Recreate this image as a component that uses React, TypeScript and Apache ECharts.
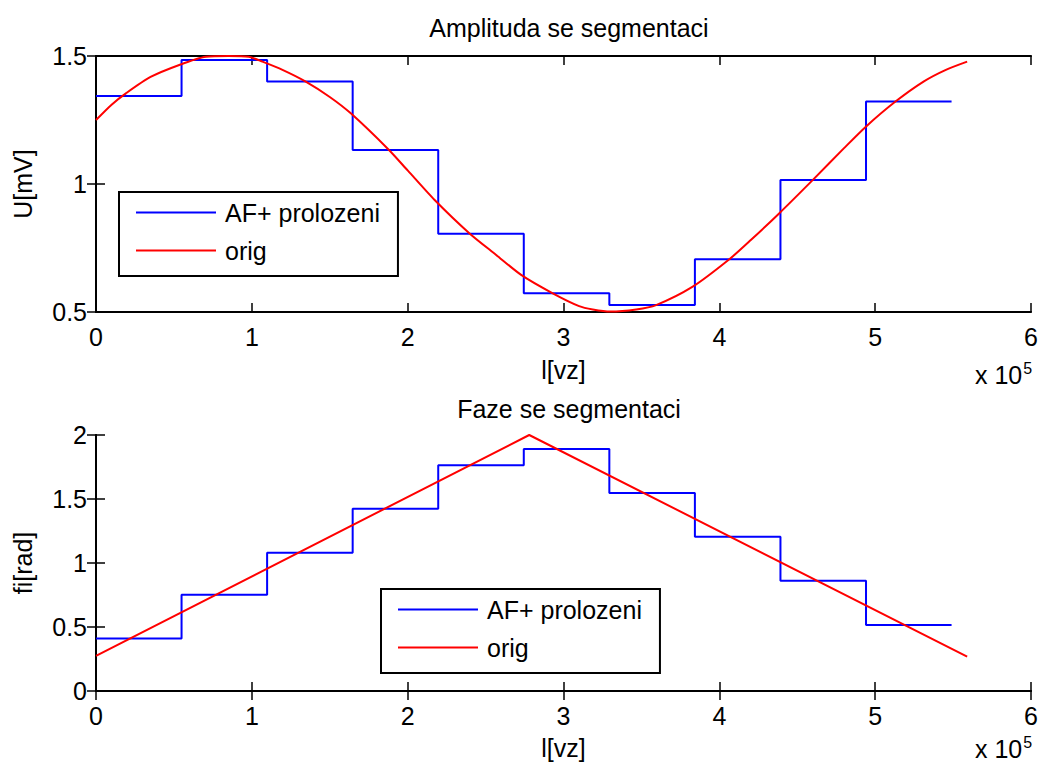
import React, { useEffect, useRef } from "react";
import * as echarts from "echarts";

// segment edges (x 10^5)
const segEdges = [0, 0.549, 1.098, 1.647, 2.196, 2.745, 3.294, 3.843, 4.392, 4.941, 5.49];
const ampSteps = [1.344, 1.484, 1.40, 1.133, 0.806, 0.573, 0.527, 0.706, 1.016, 1.322];
const phaseSteps = [0.41, 0.751, 1.08, 1.424, 1.763, 1.89, 1.547, 1.205, 0.861, 0.516];

const ampOrigX = [0, 0.1, 0.192, 0.35, 0.534, 0.705, 0.85, 0.98, 1.068, 1.2, 1.346, 1.5, 1.635, 1.88, 2.0, 2.173, 2.397, 2.568, 2.728, 2.931, 3.1, 3.188, 3.3, 3.466, 3.594, 3.829, 4.064, 4.2, 4.385, 4.6, 4.8, 4.94, 5.13, 5.31, 5.45, 5.59];
const ampOrigY = [1.25, 1.31, 1.354, 1.418, 1.465, 1.497, 1.50, 1.497, 1.478, 1.445, 1.40, 1.34, 1.276, 1.133, 1.053, 0.9375, 0.807, 0.723, 0.645, 0.573, 0.523, 0.51, 0.502, 0.51, 0.527, 0.599, 0.706, 0.78, 0.886, 1.016, 1.14, 1.224, 1.322, 1.40, 1.445, 1.478];

const phaseOrigX = [0, 2.78, 5.59];
const phaseOrigY = [0.274, 2.0, 0.268];

const xTicks = ["0", "1", "2", "3", "4", "5", "6"];
const SCALE = 1e5;

const FONT = "Liberation Sans, Arial, sans-serif";
const FS = 25;

const stepData = (vals: number[]) => {
  const d = vals.map((v, i) => [segEdges[i] * SCALE, v]);
  d.push([segEdges[segEdges.length - 1] * SCALE, vals[vals.length - 1]]);
  return d;
};
const lineData = (xs: number[], ys: number[]) => xs.map((x, i) => [x * SCALE, ys[i]]);

export default function App() {
  const ref = useRef<HTMLDivElement>(null);
  useEffect(() => {
    if (!ref.current) return;
    const chart = echarts.init(ref.current, undefined, { renderer: "svg" });
    const grids = [
      { left: 96, top: 56, width: 936, height: 256 },
      { left: 96, top: 435, width: 936, height: 256 },
    ];
    const axisLine = { show: true, lineStyle: { color: "#000", width: 2 } };
    const axisTick = { show: true, inside: true, length: 9, lineStyle: { color: "#000", width: 1.5 } };
    const labelStyle = { color: "#000", fontSize: FS, fontFamily: FONT };
    const xAx = (gi: number, pos: "bottom" | "top", nameGap: number) => ({
      type: "value",
      gridIndex: gi,
      position: pos,
      min: 0,
      max: 6 * SCALE,
      interval: SCALE,
      axisLine,
      axisTick,
      splitLine: { show: false },
      axisLabel: pos === "bottom"
        ? { ...labelStyle, margin: 12, formatter: (v: number) => xTicks[Math.round(v / SCALE)] }
        : { show: false },
      name: pos === "bottom" ? "l[vz]" : "",
      nameLocation: "middle",
      nameGap,
      nameTextStyle: labelStyle,
    });
    const yAx = (gi: number, pos: "left" | "right", min: number, max: number, name: string) => ({
      type: "value",
      gridIndex: gi,
      position: pos,
      min,
      max,
      interval: 0.5,
      axisLine,
      axisTick,
      splitLine: { show: false },
      axisLabel: pos === "left" ? { ...labelStyle, margin: 9, formatter: (v: number) => String(v) } : { show: false },
      name: pos === "left" ? name : "",
      nameLocation: "middle",
      nameGap: 61,
      nameTextStyle: labelStyle,
    });
    const legendBase = {
      orient: "vertical",
      data: ["AF+ prolozeni", "orig"],
      itemWidth: 80,
      itemHeight: 14,
      itemGap: 13,
      backgroundColor: "#fff",
      borderColor: "#000",
      borderWidth: 2,
      borderRadius: 0,
      itemStyle: { opacity: 0 },
      textStyle: { color: "#000", fontSize: FS, fontFamily: FONT, padding: [0, 0, 0, 4] },
      selectedMode: false,
    };
    const sup = {
      a: { fontSize: FS, fontFamily: FONT, color: "#000" },
      b: { fontSize: 16, fontFamily: FONT, color: "#000", padding: [0, 0, 14, 1] },
    };
    chart.setOption({
      animation: false,
      backgroundColor: "#fff",
      title: [
        { text: "Amplituda se segmentaci", left: 564, top: 10, textAlign: "center", textStyle: { fontSize: FS, fontWeight: "normal", color: "#000", fontFamily: FONT } },
        { text: "Faze se segmentaci", left: 564, top: 391, textAlign: "center", textStyle: { fontSize: FS, fontWeight: "normal", color: "#000", fontFamily: FONT } },
      ],
      grid: grids,
      xAxis: [xAx(0, "bottom", 45), xAx(0, "top", 45), xAx(1, "bottom", 44), xAx(1, "top", 44)],
      yAxis: [
        yAx(0, "left", 0.5, 1.5, "U[mV]"),
        yAx(0, "right", 0.5, 1.5, ""),
        yAx(1, "left", 0, 2, "fi[rad]"),
        yAx(1, "right", 0, 2, ""),
      ],
      legend: [
        { ...legendBase, left: 119, top: 192, padding: [8, 18, 13, 16] },
        { ...legendBase, left: 381, top: 589, padding: [8, 18, 13, 16] },
      ],
      graphic: [
        { type: "text", left: 975, top: 360, style: { text: "{a|x 10}{b|5}", rich: sup } },
        { type: "text", left: 975, top: 734, style: { text: "{a|x 10}{b|5}", rich: sup } },
      ],
      series: [
        { name: "AF+ prolozeni", type: "line", step: "end", xAxisIndex: 0, yAxisIndex: 0, symbol: "none", data: stepData(ampSteps), lineStyle: { color: "#0000ff", width: 2 }, itemStyle: { color: "#0000ff" } },
        { name: "orig", type: "line", smooth: 0.25, xAxisIndex: 0, yAxisIndex: 0, symbol: "none", data: lineData(ampOrigX, ampOrigY), lineStyle: { color: "#ff0000", width: 2 }, itemStyle: { color: "#ff0000" } },
        { name: "AF+ prolozeni", type: "line", step: "end", xAxisIndex: 2, yAxisIndex: 2, symbol: "none", data: stepData(phaseSteps), lineStyle: { color: "#0000ff", width: 2 }, itemStyle: { color: "#0000ff" } },
        { name: "orig", type: "line", xAxisIndex: 2, yAxisIndex: 2, symbol: "none", data: lineData(phaseOrigX, phaseOrigY), lineStyle: { color: "#ff0000", width: 2 }, itemStyle: { color: "#ff0000" } },
      ],
    });
    return () => chart.dispose();
  }, []);
  return <div ref={ref} style={{ width: 1041, height: 767, position: "absolute", left: 0, top: 0 }} />;
}
